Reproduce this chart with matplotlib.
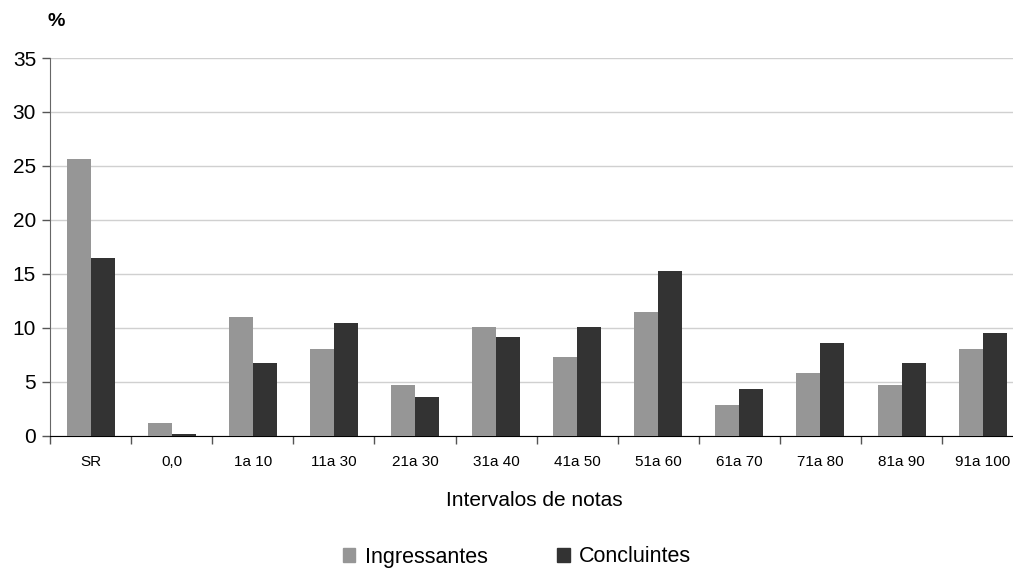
import matplotlib
matplotlib.use("Agg")
import matplotlib.pyplot as plt
import numpy as np
from matplotlib.patches import Patch

plt.rcParams["font.family"] = ["Liberation Sans", "DejaVu Sans"]

categories = ["SR", "0,0", "1a 10", "11a 30", "21a 30", "31a 40",
              "41a 50", "51a 60", "61a 70", "71a 80", "81a 90", "91a 100"]
ingressantes = [25.6, 1.15, 11.0, 8.0, 4.7, 10.05, 7.25, 11.5, 2.8, 5.8, 4.7, 8.0]
concluintes = [16.5, 0.2, 6.7, 10.4, 3.55, 9.1, 10.05, 15.25, 4.3, 8.55, 6.7, 9.5]
y_ticks = [0, 5, 10, 15, 20, 25, 30, 35]

W, H = 1013, 570
fig = plt.figure(figsize=(W / 100, H / 100), dpi=100)
left, right, top, bottom = 50, 1013, 58, 435.7
ax = fig.add_axes([left / W, 1 - bottom / H, (right - left) / W, (bottom - top) / H])

x = np.arange(len(categories))
bw = 0.296
ax.bar(x - bw / 2, ingressantes, bw, color="#969696", zorder=3)
ax.bar(x + bw / 2, concluintes, bw, color="#333333", zorder=3)

ax.set_yticks(y_ticks)
ax.tick_params(axis="y", labelsize=15, length=6, width=1, color="#555555", pad=4)
ax.yaxis.grid(True, color="#d0d0d0", linewidth=1, zorder=0)
ax.set_axisbelow(True)

ax.set_xticks(x)
ax.set_xticklabels(categories, fontsize=11)
ax.tick_params(axis="x", which="major", length=0, pad=14)
ax.set_xticks(np.arange(-0.5, 11, 1), minor=True)
ax.tick_params(axis="x", which="minor", length=6, width=1, color="#555555", direction="out")

# limits after the ticks, so set_xticks does not widen them
ax.set_ylim(0, 35)
ax.set_xlim(-0.5, -0.5 + (right - left) / 81.1)

for s in ["top", "right"]:
    ax.spines[s].set_visible(False)
ax.spines["left"].set_color("#666666")
ax.spines["bottom"].set_color("#000000")

fig.text(56 / W, 1 - 21 / H, "%", fontsize=14, fontweight="bold", ha="center", va="center")
fig.text(534 / W, 1 - 500 / H, "Intervalos de notas", fontsize=15, ha="center", va="center")

handles = [Patch(color="#969696", label="Ingressantes"),
           Patch(color="#333333", label="Concluintes")]
fig.legend(handles=handles, loc="center", bbox_to_anchor=(517 / W, 1 - 557 / H), ncol=2,
           frameon=False, fontsize=15.5, handlelength=0.6, handleheight=0.6,
           handletextpad=0.42, columnspacing=3.25)

fig.savefig("out.png", dpi=100)
